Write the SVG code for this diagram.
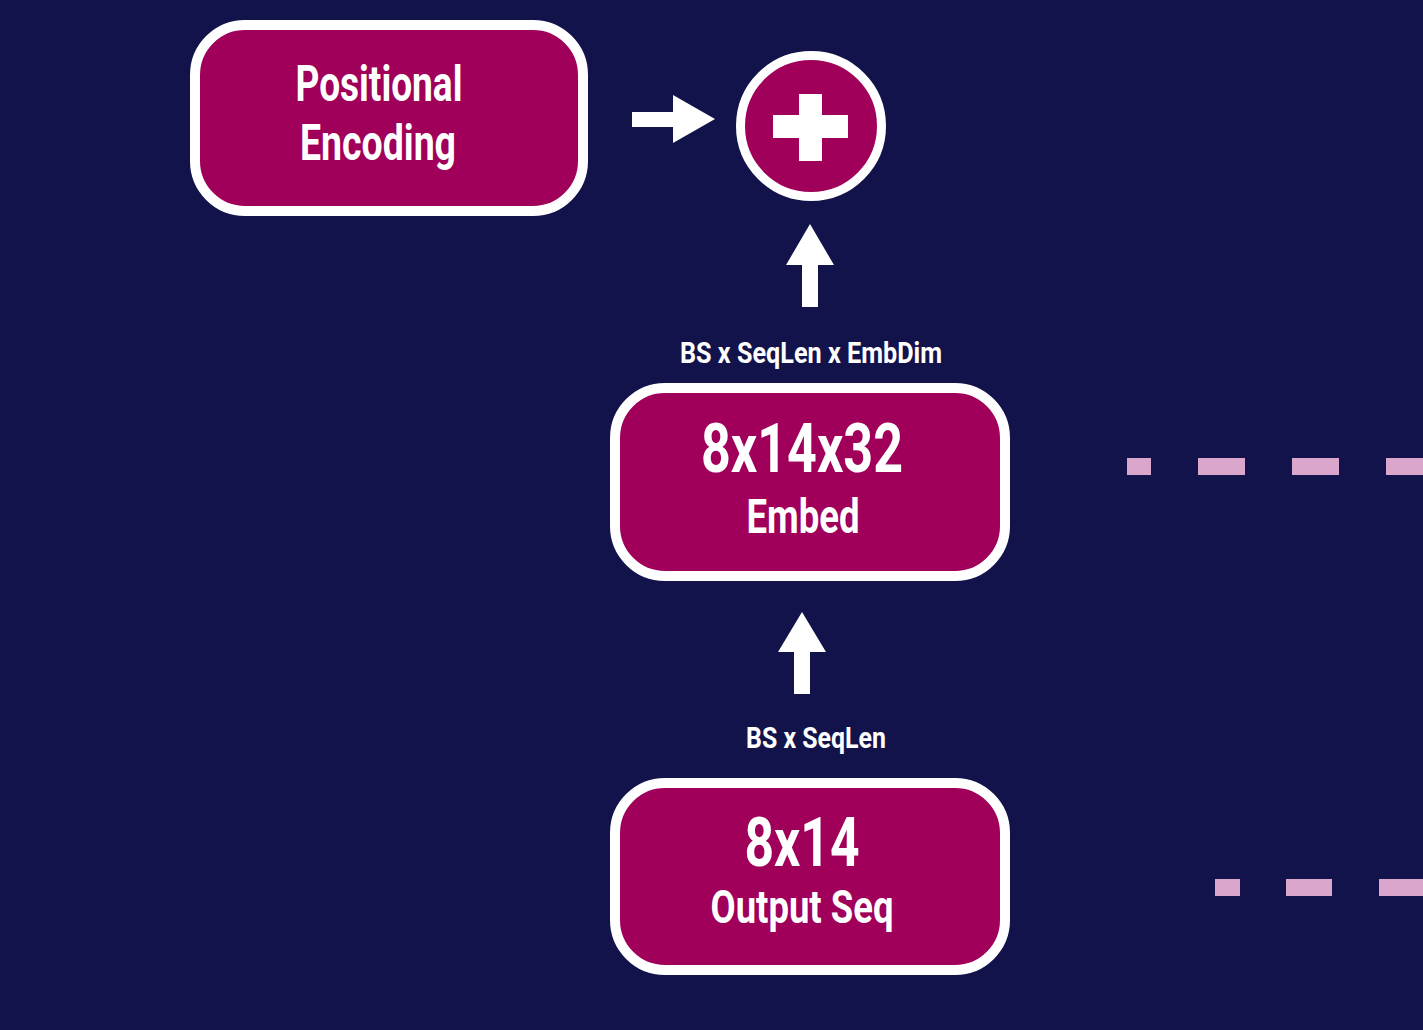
<svg xmlns="http://www.w3.org/2000/svg" width="1423" height="1030" viewBox="0 0 1423 1030">
<style>
.box{fill:#a0005a;stroke:#ffffff;stroke-width:10}
.t{font-family:Roboto,"Liberation Sans",sans-serif;font-weight:700;fill:#ffffff;text-anchor:middle}
.arr{fill:#ffffff}
.dash{fill:#dba6cc}
</style>
<rect width="1423" height="1030" fill="#13134c"/>
<g id="positional-encoding">
<rect class="box" x="195" y="25" width="388" height="186" rx="50"/>
<text class="t" x="379" y="101" font-size="50" textLength="167" lengthAdjust="spacingAndGlyphs">Positional</text>
<text class="t" x="378" y="160" font-size="50" textLength="156" lengthAdjust="spacingAndGlyphs">Encoding</text>
</g>
<g id="add">
<circle cx="811" cy="126" r="70.5" fill="#a0005a" stroke="#ffffff" stroke-width="9"/>
<rect class="arr" x="773" y="115" width="75" height="23"/>
<rect class="arr" x="799" y="94" width="23" height="67"/>
</g>
<g id="embed">
<rect class="box" x="615" y="388" width="390" height="188" rx="50"/>
<text class="t" x="802" y="472" font-size="68" textLength="202" lengthAdjust="spacingAndGlyphs">8x14x32</text>
<text class="t" x="803" y="533" font-size="48" textLength="113" lengthAdjust="spacingAndGlyphs">Embed</text>
</g>
<g id="output-seq">
<rect class="box" x="615" y="783" width="390" height="187" rx="50"/>
<text class="t" x="802" y="866" font-size="68" textLength="115" lengthAdjust="spacingAndGlyphs">8x14</text>
<text class="t" x="802" y="923" font-size="46" textLength="183" lengthAdjust="spacingAndGlyphs">Output Seq</text>
</g>
<g id="connectors">
<polygon class="arr" points="632,112 673,112 673,95 715,119 673,143 673,127 632,127"/>
<polygon class="arr" points="810,224 834,265 818,265 818,307 802,307 802,265 786,265"/>
<polygon class="arr" points="802,612 826,652 810,652 810,694 794,694 794,652 778,652"/>
<text class="t" x="811" y="363" font-size="29" textLength="262" lengthAdjust="spacingAndGlyphs">BS x SeqLen x EmbDim</text>
<text class="t" x="816" y="748" font-size="29" textLength="140" lengthAdjust="spacingAndGlyphs">BS x SeqLen</text>
<rect class="dash" x="1127" y="458" width="24" height="17"/>
<rect class="dash" x="1198" y="458" width="47" height="17"/>
<rect class="dash" x="1292" y="458" width="47" height="17"/>
<rect class="dash" x="1386" y="458" width="47" height="17"/>
<rect class="dash" x="1215" y="879" width="25" height="17"/>
<rect class="dash" x="1286" y="879" width="46" height="17"/>
<rect class="dash" x="1379" y="879" width="46" height="17"/>
</g>
</svg>
